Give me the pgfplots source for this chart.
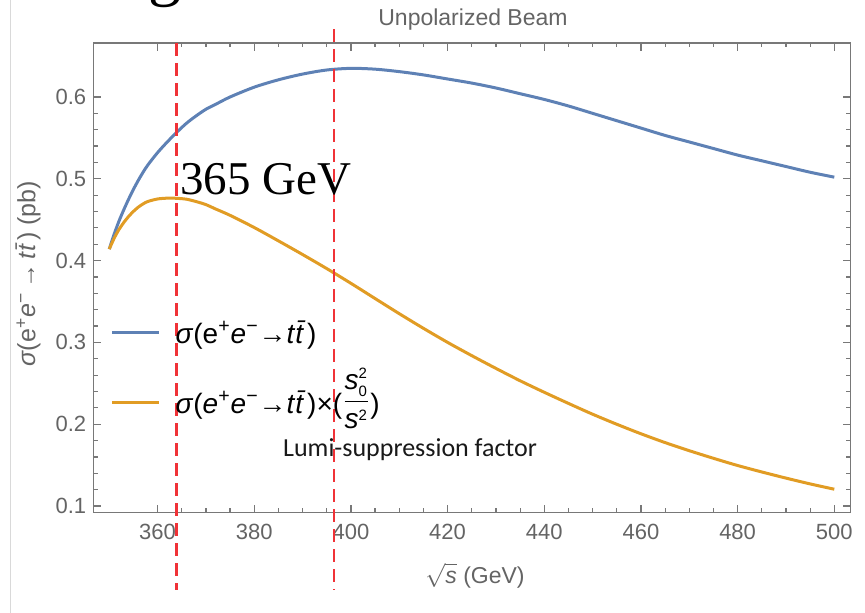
\documentclass[border=0pt]{standalone}
\usepackage{fontspec}
\setmainfont{Liberation Sans}
\newfontfamily\timesf{Liberation Serif}
\newfontfamily\calib{Carlito}
\usepackage{pgfplots}
\pgfplotsset{compat=1.18}

\definecolor{mblue}{RGB}{94,129,181}
\definecolor{morange}{RGB}{225,156,36}
\definecolor{mred}{RGB}{240,50,55}
\definecolor{framegray}{RGB}{120,120,120}
\definecolor{labgray}{RGB}{100,100,100}

\newcommand{\ttb}{\textit{t}\textit{\=t}}
\newcommand{\smalldig}[1]{\mbox{\fontsize{7.5}{7.5}\selectfont #1}}

\pgfplotstableread{
x     blue   orange
350   0.414  0.4140
351   0.432  0.4271
352   0.448  0.4379
353   0.462  0.4465
354   0.475  0.4539
355   0.487  0.4601
356   0.498  0.4653
357   0.508  0.4693
358   0.517  0.4723
360   0.532  0.4753
362   0.545  0.4763
364   0.557  0.4761
366   0.568  0.4750
368   0.577  0.4721
370   0.585  0.4684
372   0.591  0.4631
375   0.600  0.4553
380   0.612  0.4404
385   0.621  0.4241
390   0.628  0.4074
395   0.633  0.3902
400   0.635  0.3722
405   0.634  0.3536
410   0.631  0.3351
415   0.627  0.3172
420   0.622  0.3000
425   0.617  0.2838
430   0.611  0.2682
435   0.604  0.2531
440   0.597  0.2390
445   0.589  0.2254
450   0.580  0.2122
455   0.571  0.1999
460   0.562  0.1883
465   0.553  0.1775
470   0.545  0.1676
475   0.537  0.1583
480   0.529  0.1495
485   0.522  0.1416
490   0.515  0.1341
495   0.508  0.1270
500   0.502  0.1205
}\xsdata

\begin{document}
\begin{tikzpicture}
\useasboundingbox (-46.65pt,-50.15pt) rectangle (385.85pt,256.35pt);
\draw[gray!30, line width=0.9pt] (-41.4pt,-50.15pt) -- (-41.4pt,256.35pt);
\node[anchor=base west, inner sep=0pt, font=\timesf\fontsize{33}{33}\selectfont] at (27.5pt,259.5pt) {g};
\begin{axis}[
  at={(0pt,0pt)}, anchor=south west,
  scale only axis, width=378.7pt, height=234.85pt,
  xmin=346.7, xmax=503.4, ymin=0.0918, ymax=0.666,
  xtick={360,380,400,420,440,460,480,500},
  ytick={0.1,0.2,0.3,0.4,0.5,0.6},
  scaled y ticks=false,
  minor x tick num=3, minor y tick num=4,
  major tick length=4pt, minor tick length=2.25pt,
  axis line style={framegray, line width=0.7pt},
  tick style={framegray, line width=0.6pt},
  tick label style={font=\fontsize{11}{13}\selectfont, text=labgray},
  /pgf/number format/assume math mode=true,
  yticklabel style={/pgf/number format/fixed, /pgf/number format/precision=1},
  xticklabel style={yshift=-2.3pt},
  clip=false,
  legend style={draw=none, fill=none, at={(0.0226,0.4218)}, anchor=north west,
    inner sep=0pt, row sep=8.5pt, column sep=0pt,
    nodes={inner sep=0pt, text depth=, font=\fontsize{14}{16}\selectfont}},
  legend cell align=left,
  legend image code/.code={\draw[#1, line width=1.5pt] (0pt,0pt) -- (23.3pt,0pt);},
]
\addplot[mblue, line width=1.5pt, smooth] table[x=x, y=blue] {\xsdata};
\addlegendentry{\hspace*{7.6pt}\rule[-3pt]{0pt}{17.2pt}\textit{σ}(e\textsuperscript{+}\textit{e}\textsuperscript{−}→\ttb)}
\addplot[morange, line width=1.5pt, smooth] table[x=x, y=orange] {\xsdata};
\addlegendentry{\hspace*{7.6pt}\rule[-12.3pt]{0pt}{35.8pt}\textit{σ}(\textit{e}\textsuperscript{+}\textit{e}\textsuperscript{−}→\ttb)×(\raisebox{2.4pt}{$\displaystyle\frac{\mbox{\textit{s}}^{\smalldig{2}}_{\smalldig{0}}}{\mbox{\textit{s}}^{\smalldig{2}}}$})}
\addplot[mred, line width=1.2pt, dash pattern=on 6.5pt off 3.5pt, forget plot] coordinates {(363.9,0.666) (363.9,-0.0022)};
\addplot[mred, line width=1.2pt, dash pattern=on 6.5pt off 3.5pt, forget plot] coordinates {(396.5,0.683) (396.5,-0.0022)};

\node[anchor=base, inner sep=0pt, font=\fontsize{11.5}{13}\selectfont, text=labgray] at (rel axis cs:0.5013,1.0383) {Unpolarized Beam};
\node[anchor=base, inner sep=0pt, font=\fontsize{11.5}{13}\selectfont, text=labgray] at (rel axis cs:0.504,-0.1497) {$\sqrt{\mbox{\textit{s}}}$ (GeV)};
\node[rotate=90, anchor=center, inner sep=0pt, font=\fontsize{12.5}{14}\selectfont, text=labgray] at (rel axis cs:-0.0862,0.508) {\textit{σ}(e\textsuperscript{+}\textit{e}\textsuperscript{−}\,→\,\ttb) (pb)};
\node[anchor=base west, inner sep=0pt, font=\timesf\fontsize{23.5}{25}\selectfont] at (axis cs:364.6,0.4804) {365 GeV};
\node[anchor=base west, inner sep=0pt, font=\calib\fontsize{13}{15}\selectfont, text=black!90] at (axis cs:385.9,0.160) {Lumi-suppression factor};
\end{axis}
\end{tikzpicture}
\end{document}
